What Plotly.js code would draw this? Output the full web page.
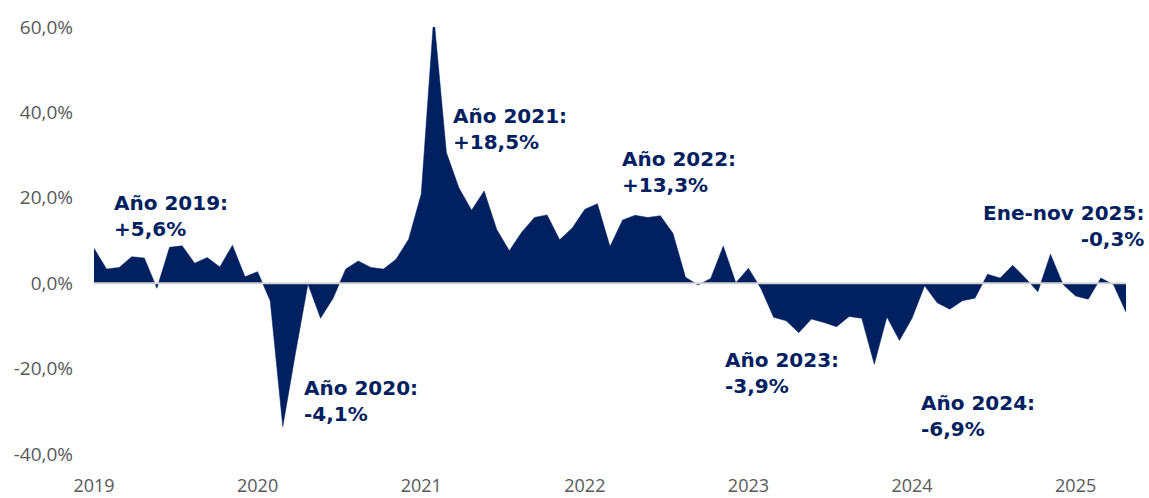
<!DOCTYPE html>
<html>
<head>
<meta charset="utf-8">
<script src="https://cdn.plot.ly/plotly-3.0.1.min.js"></script>
<style>
  html, body { margin: 0; padding: 0; background: #ffffff; }
  #chart { width: 1149px; height: 498px; }
</style>
</head>
<body>
<div id="chart"></div>
<script>
// Monthly year-on-year variation (%), Jan 2019 - Nov 2025
const startYear = 2019;
const monthCount = 83;

const values = [
  8.2, 3.3, 3.7, 6.2, 5.9, -1.2, 8.4, 8.75, 4.7, 6.0, 3.8, 8.9,          // 2019
  1.5, 2.7, -4.1, -33.6, -16.5, -0.2, -8.2, -3.5, 3.3, 5.2, 3.7, 3.3,     // 2020
  5.6, 10.3, 20.9, 62.5, 30.6, 22.3, 17.1, 21.6, 12.6, 7.6, 12.0, 15.4,  // 2021
  16.0, 10.2, 12.9, 17.3, 18.6, 8.6, 14.8, 15.9, 15.4, 15.8, 11.7, 1.4,  // 2022
  -0.4, 1.1, 8.7, 0.1, 3.5, -1.3, -8.0, -8.8, -11.6, -8.4, -9.2, -10.2,  // 2023
  -7.8, -8.2, -19.0, -7.9, -13.4, -8.2, -0.6, -4.6, -6.1, -4.1, -3.5, 2.1, // 2024
  1.2, 4.2, 1.2, -2.0, 6.8, -0.3, -3.0, -3.75, 1.2, -0.3, -6.8           // 2025
];

// Category labels: each month carries its year as label
const categories = [];
const yearLabels = [];
for (let i = 0; i < monthCount; i++) {
  const y = startYear + Math.floor(i / 12);
  const m = (i % 12) + 1;
  categories.push(y + '-' + (m < 10 ? '0' + m : m));
  yearLabels.push(String(y));
}
const labelStep = 13; // the axis shows every 13th category label
const tickCats = categories.filter((c, i) => i % labelStep === 0);
const tickText = yearLabels.filter((c, i) => i % labelStep === 0);

const yTickVals = [-40, -20, 0, 20, 40, 60];
const yTickText = ['-40,0%', '-20,0%', '0,0%', '20,0%', '40,0%', '60,0%'];

const annoTexts = ['Año 2019:<br>+5,6%', 'Año 2020:<br>-4,1%', 'Año 2021:<br>+18,5%',
                   'Año 2022:<br>+13,3%', 'Año 2023:<br>-3,9%', 'Año 2024:<br>-6,9%',
                   'Ene-nov 2025:<br>-0,3%'];

const navy = '#002060';
const annoPos = [
  {x: 0.0175, y: 15.8, a: 'left'},
  {x: 0.202, y: -27.6, a: 'left'},
  {x: 0.3455, y: 36.0, a: 'left'},
  {x: 0.5095, y: 26.0, a: 'left'},
  {x: 0.6095, y: -21.0, a: 'left'},
  {x: 0.799, y: -31.0, a: 'left'},
  {x: 1.0195, y: 13.4, a: 'right'}
];

const annotations = annoTexts.map((t, i) => ({
  text: '<b>' + t + '</b>',
  xref: 'paper', yref: 'y',
  x: annoPos[i].x, y: annoPos[i].y,
  xanchor: annoPos[i].a, yanchor: 'middle', align: annoPos[i].a,
  showarrow: false,
  font: {family: 'DejaVu Sans, sans-serif', size: 20, color: navy}
}));

const trace = {
  x: categories,
  y: values,
  type: 'scatter',
  mode: 'lines',
  fill: 'tozeroy',
  fillcolor: navy,
  line: {color: navy, width: 0.5},
  hoverinfo: 'skip'
};

const tickFont = {family: 'Open Sans, sans-serif', size: 19, color: '#595959'};

const layout = {
  width: 1149, height: 498,
  margin: {l: 94, r: 23, t: 27, b: 44, pad: 0},
  paper_bgcolor: '#ffffff', plot_bgcolor: '#ffffff',
  showlegend: false,
  xaxis: {
    type: 'category',
    range: [0, monthCount - 1],
    tickmode: 'array',
    tickvals: tickCats,
    ticktext: tickText,
    showgrid: false, zeroline: false, showline: false,
    ticks: '',
    ticklabelstandoff: 19,
    tickfont: {family: 'Open Sans, sans-serif', size: 18, color: '#595959'},
    fixedrange: true
  },
  yaxis: {
    range: [-40, 60],
    tickmode: 'array',
    tickvals: yTickVals,
    ticktext: yTickText,
    showgrid: false, zeroline: false, showline: false,
    ticks: '',
    ticklabelstandoff: 20,
    tickfont: tickFont,
    fixedrange: true
  },
  shapes: [{
    type: 'line', layer: 'above',
    xref: 'paper', x0: 0, x1: 1,
    yref: 'y', y0: 0, y1: 0,
    line: {color: '#d4d4d4', width: 2}
  }],
  annotations: annotations
};

Plotly.newPlot('chart', [trace], layout, {displayModeBar: false, staticPlot: true});
</script>
</body>
</html>
